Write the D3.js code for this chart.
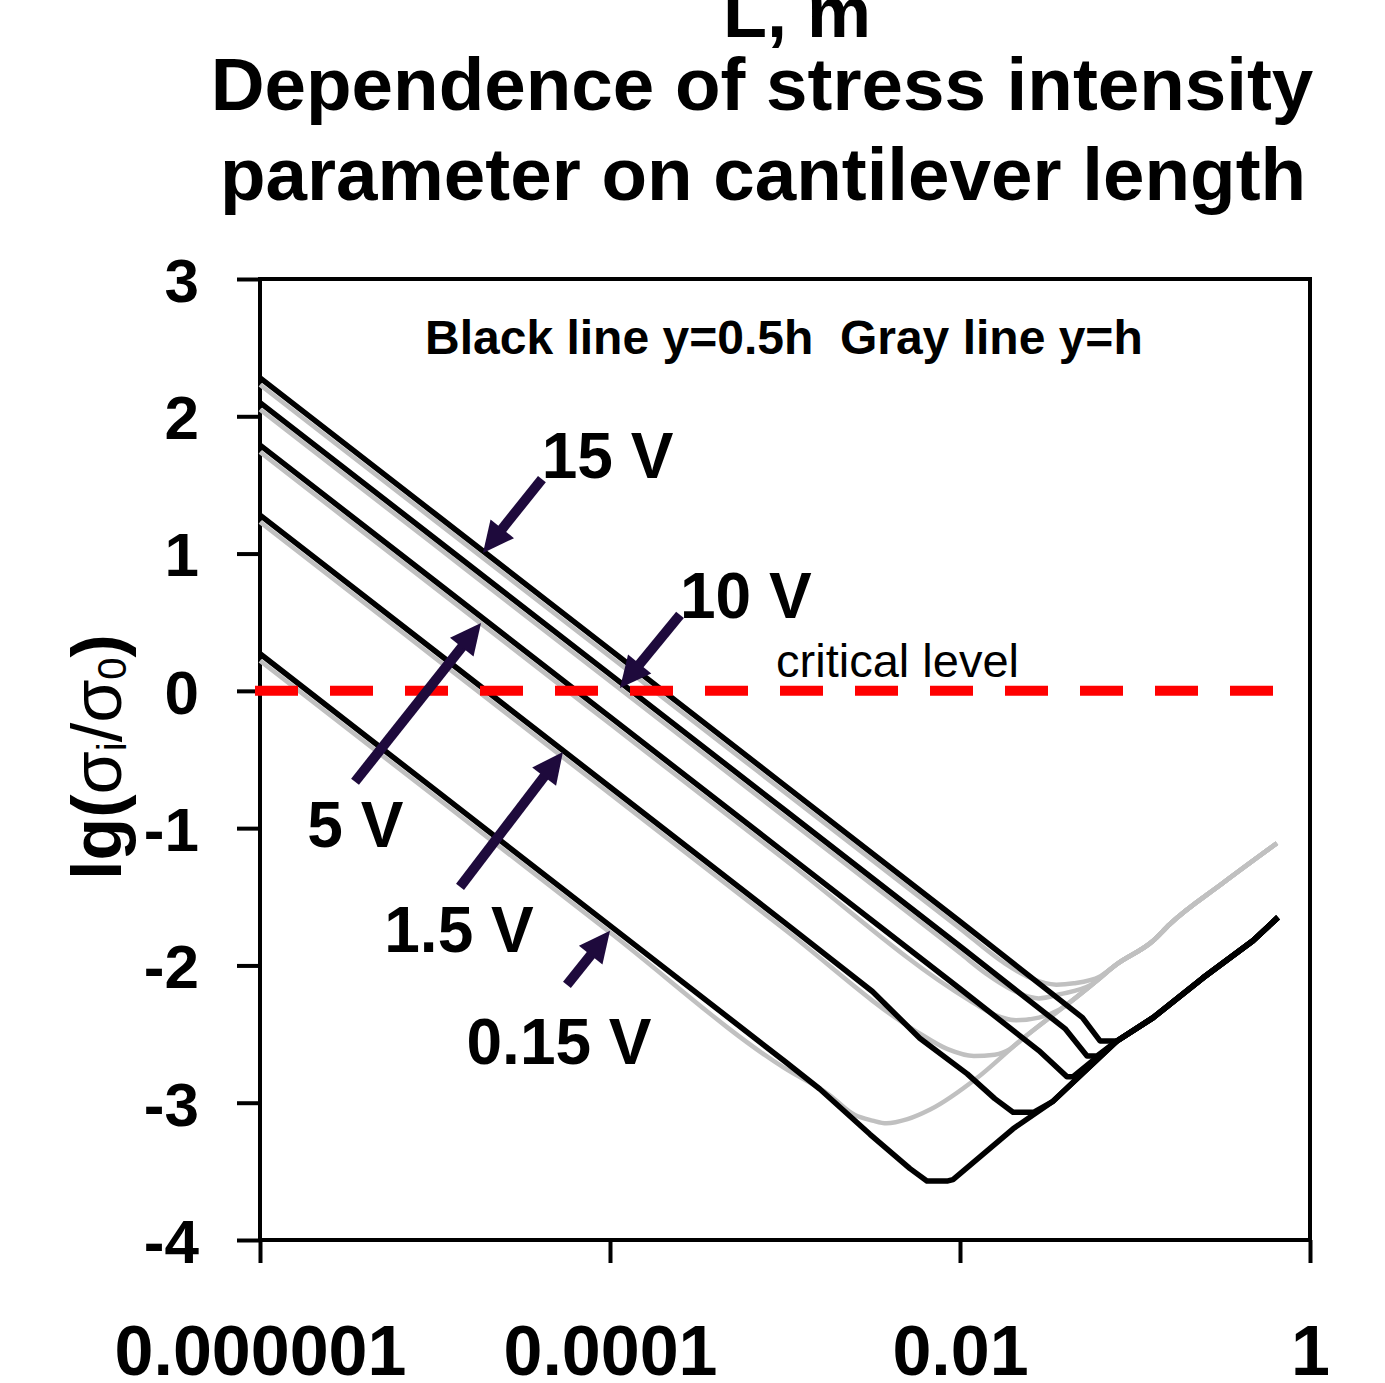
<!DOCTYPE html>
<html>
<head>
<meta charset="utf-8">
<script src="https://cdn.jsdelivr.net/npm/d3@7"></script>
<style>
  body { margin: 0; background: #fff; }
  svg { display: block; font-family: "Liberation Sans", Arial, sans-serif; }
</style>
</head>
<body>
<svg id="chart" width="1385" height="1383"></svg>
<script>
// cantilever length L, m  ->  lg(sigma_i / sigma_0)
// black line: y = 0.5h
const black15  = [[1e-6,2.28],[1e-5,1.29],[1e-4,0.30],[1e-3,-0.69],[0.01,-1.68],[0.0316,-2.18],[0.0501,-2.38],[0.0631,-2.55],[0.0789,-2.55],[0.127,-2.38],[0.245,-2.09],[0.472,-1.82],[0.656,-1.65]];
const black10  = [[1e-6,2.10],[1e-5,1.11],[1e-4,0.12],[1e-3,-0.87],[0.01,-1.86],[0.0398,-2.46],[0.0532,-2.66],[0.0607,-2.66],[0.0789,-2.55],[0.127,-2.38],[0.245,-2.09],[0.472,-1.82],[0.656,-1.65]];
const black5   = [[1e-6,1.79],[1e-5,0.80],[1e-4,-0.19],[1e-3,-1.18],[0.01,-2.17],[0.0282,-2.62],[0.0408,-2.81],[0.0443,-2.81],[0.0789,-2.55],[0.127,-2.38],[0.245,-2.09],[0.472,-1.82],[0.656,-1.65]];
const black1_5 = [[1e-6,1.28],[1e-5,0.29],[1e-4,-0.70],[1e-3,-1.69],[0.00316,-2.19],[0.00589,-2.53],[0.011,-2.79],[0.0158,-2.97],[0.0201,-3.07],[0.0263,-3.07],[0.034,-2.99],[0.0789,-2.55],[0.127,-2.38],[0.245,-2.09],[0.472,-1.82],[0.656,-1.65]];
const black015 = [[1e-6,0.27],[1e-5,-0.72],[1e-4,-1.71],[1e-3,-2.70],[0.00158,-2.90],[0.00306,-3.23],[0.00518,-3.48],[0.00647,-3.57],[0.00853,-3.57],[0.00912,-3.56],[0.0201,-3.19],[0.034,-2.99],[0.0789,-2.55],[0.127,-2.38],[0.245,-2.09],[0.472,-1.82],[0.656,-1.65]];

// gray line: y = h
const gray15  = [[1e-6,2.23],[1e-5,1.24],[1e-4,0.25],[1e-3,-0.74],[0.01,-1.73],[0.0178,-1.98],[0.0251,-2.09],[0.0355,-2.14],[0.0447,-2.13],[0.0631,-2.08],[0.0789,-1.99],[0.127,-1.82],[0.158,-1.70],[0.318,-1.40],[0.647,-1.11]];
const gray10  = [[1e-6,2.05],[1e-5,1.06],[1e-4,0.07],[1e-3,-0.92],[0.01,-1.91],[0.0141,-2.06],[0.02,-2.18],[0.0251,-2.23],[0.0282,-2.24],[0.0372,-2.21],[0.0562,-2.14],[0.0789,-1.99],[0.127,-1.82],[0.158,-1.70],[0.318,-1.40],[0.647,-1.11]];
const gray5   = [[1e-6,1.74],[1e-5,0.75],[1e-4,-0.24],[1e-3,-1.23],[0.0112,-2.25],[0.0158,-2.36],[0.0209,-2.40],[0.0282,-2.38],[0.0372,-2.32],[0.0532,-2.17],[0.0789,-1.99],[0.127,-1.82],[0.158,-1.70],[0.318,-1.40],[0.647,-1.11]];
const gray1_5 = [[1e-6,1.23],[1e-5,0.24],[1e-4,-0.75],[1e-3,-1.74],[0.00562,-2.48],[0.0085,-2.61],[0.012,-2.66],[0.0158,-2.65],[0.0193,-2.61],[0.022,-2.55],[0.0532,-2.17],[0.0789,-1.99],[0.127,-1.82],[0.158,-1.70],[0.318,-1.40],[0.647,-1.11]];
const gray015 = [[1e-6,0.22],[1e-5,-0.77],[1e-4,-1.76],[1e-3,-2.75],[0.00178,-2.94],[0.00251,-3.09],[0.00316,-3.13],[0.0038,-3.15],[0.00501,-3.12],[0.00675,-3.05],[0.0125,-2.82],[0.022,-2.55],[0.0532,-2.17],[0.0789,-1.99],[0.127,-1.82],[0.158,-1.70],[0.318,-1.40],[0.647,-1.11]];

const criticalLevel = [[1e-6,0],[1,0]];

const xTicks = [1e-6, 1e-4, 1e-2, 1];
const xTickLabels = ["0.000001", "0.0001", "0.01", "1"];
const yTicks = [-4, -3, -2, -1, 0, 1, 2, 3];

// voltage annotations: label position and arrow (tail -> tip), in [lg L, value]
const voltLabels = ["15 V", "10 V", "5 V", "1.5 V", "0.15 V"];
const voltLabelPos = [[-4.39,1.55],[-3.60,0.53],[-5.73,-1.14],[-5.29,-1.90],[-4.82,-2.72]];
const arrowTail = [[-4.389,1.543],[-3.60,0.553],[-5.457,-0.662],[-4.857,-1.428],[-4.246,-2.142]];
const arrowTip  = [[-4.726,1.004],[-3.943,0.021],[-4.737,0.495],[-4.269,-0.445],[-4.0,-1.748]];

const svg = d3.select("#chart");

const x = d3.scaleLog().domain([1e-6, 1]).range([260, 1310]);
const y = d3.scaleLinear().domain([-4, 3]).range([1240, 279]);
const px = p => [x(Math.pow(10, p[0])), y(p[1])];

// titles
svg.append("text")
    .attr("x", 797).attr("y", 37)
    .attr("text-anchor", "middle")
    .attr("font-size", 72).attr("font-weight", "bold")
    .text("L, m");

const title = svg.append("text")
    .attr("text-anchor", "middle")
    .attr("font-size", 74.6).attr("font-weight", "bold");
title.append("tspan").attr("x", 762).attr("y", 110).text("Dependence of stress intensity");
title.append("tspan").attr("x", 763).attr("y", 200).text("parameter on cantilever length");

// axes
const yAxis = svg.append("g")
    .attr("transform", "translate(260,0)")
    .call(d3.axisLeft(y).tickValues(yTicks).tickSize(23).tickPadding(38).tickFormat(d => String(d)));
const xAxis = svg.append("g")
    .attr("transform", "translate(0,1240)")
    .call(d3.axisBottom(x).tickValues(xTicks).tickSize(23).tickPadding(62).tickFormat((d, i) => xTickLabels[i]));

[yAxis, xAxis].forEach(g => {
    g.select(".domain").remove();
    g.selectAll(".tick line").attr("stroke", "#000").attr("stroke-width", 4);
    g.selectAll(".tick text")
        .attr("fill", "#000")
        .attr("font-family", "\"Liberation Sans\", Arial, sans-serif")
        .attr("font-weight", "bold");
});
yAxis.selectAll(".tick text").attr("font-size", 62).attr("dy", "0.36em");
xAxis.selectAll(".tick text").attr("font-size", 70).attr("dy", "0.71em");

// plot frame
svg.append("rect")
    .attr("x", x(1e-6)).attr("y", y(3))
    .attr("width", x(1) - x(1e-6)).attr("height", y(-4) - y(3))
    .attr("fill", "none").attr("stroke", "#000").attr("stroke-width", 4);

// y label
const ylab = svg.append("text")
    .attr("transform", "translate(121,757) rotate(-90)")
    .attr("text-anchor", "middle")
    .attr("font-size", 70);
ylab.append("tspan").attr("font-weight", "bold").text("lg(");
ylab.append("tspan").text("σ");
ylab.append("tspan").attr("font-size", 40).attr("dy", 5).text("i");
ylab.append("tspan").attr("dy", -5).text("/σ");
ylab.append("tspan").attr("font-size", 40).attr("dy", 5).text("0");
ylab.append("tspan").attr("font-weight", "bold").attr("dy", -5).text(")");

// series
const line = d3.line().x(d => x(d[0])).y(d => y(d[1]));
const smooth = d3.line().x(d => x(d[0])).y(d => y(d[1])).curve(d3.curveMonotoneX);

const grays = [gray15, gray10, gray5, gray1_5, gray015];
const blacks = [black15, black10, black5, black1_5, black015];

svg.append("g").selectAll("path")
    .data(grays).join("path")
    .attr("d", smooth)
    .attr("fill", "none").attr("stroke", "#c0c0c0").attr("stroke-width", 4.5)
    .attr("stroke-linejoin", "round");

svg.append("g").selectAll("path")
    .data(blacks).join("path")
    .attr("d", line)
    .attr("fill", "none").attr("stroke", "#000").attr("stroke-width", 5.5)
    .attr("stroke-linejoin", "round");

// critical level
svg.append("path")
    .datum(criticalLevel)
    .attr("d", line)
    .attr("fill", "none").attr("stroke", "#ff0000").attr("stroke-width", 10)
    .attr("stroke-linecap", "square").attr("stroke-dasharray", "33 42");

svg.append("text")
    .attr("x", x(Math.pow(10, -3.051))).attr("y", y(0.101))
    .attr("font-size", 47)
    .text("critical level");

svg.append("text")
    .attr("x", x(Math.pow(10, -5.057))).attr("y", y(2.454))
    .attr("font-size", 48).attr("font-weight", "bold")
    .attr("xml:space", "preserve")
    .text("Black line y=0.5h  Gray line y=h");

// arrows
const arrowColor = "#1e0a3c";
const ag = svg.append("g");
arrowTail.forEach((t, i) => {
    const [x0, y0] = px(t), [x1, y1] = px(arrowTip[i]);
    const len = Math.hypot(x1 - x0, y1 - y0);
    const ux = (x1 - x0) / len, uy = (y1 - y0) / len;
    const hl = 31, hw = 15;
    const bx = x1 - ux * hl, by = y1 - uy * hl;
    ag.append("line")
        .attr("x1", x0).attr("y1", y0).attr("x2", bx + ux * 2).attr("y2", by + uy * 2)
        .attr("stroke", arrowColor).attr("stroke-width", 10);
    ag.append("path")
        .attr("d", `M${x1},${y1}L${bx - uy * hw},${by + ux * hw}L${bx + uy * hw},${by - ux * hw}Z`)
        .attr("fill", arrowColor);
});

svg.append("g").selectAll("text")
    .data(voltLabels).join("text")
    .attr("x", (d, i) => px(voltLabelPos[i])[0])
    .attr("y", (d, i) => px(voltLabelPos[i])[1])
    .attr("font-size", 64).attr("font-weight", "bold")
    .text(d => d);
</script>
</body>
</html>
